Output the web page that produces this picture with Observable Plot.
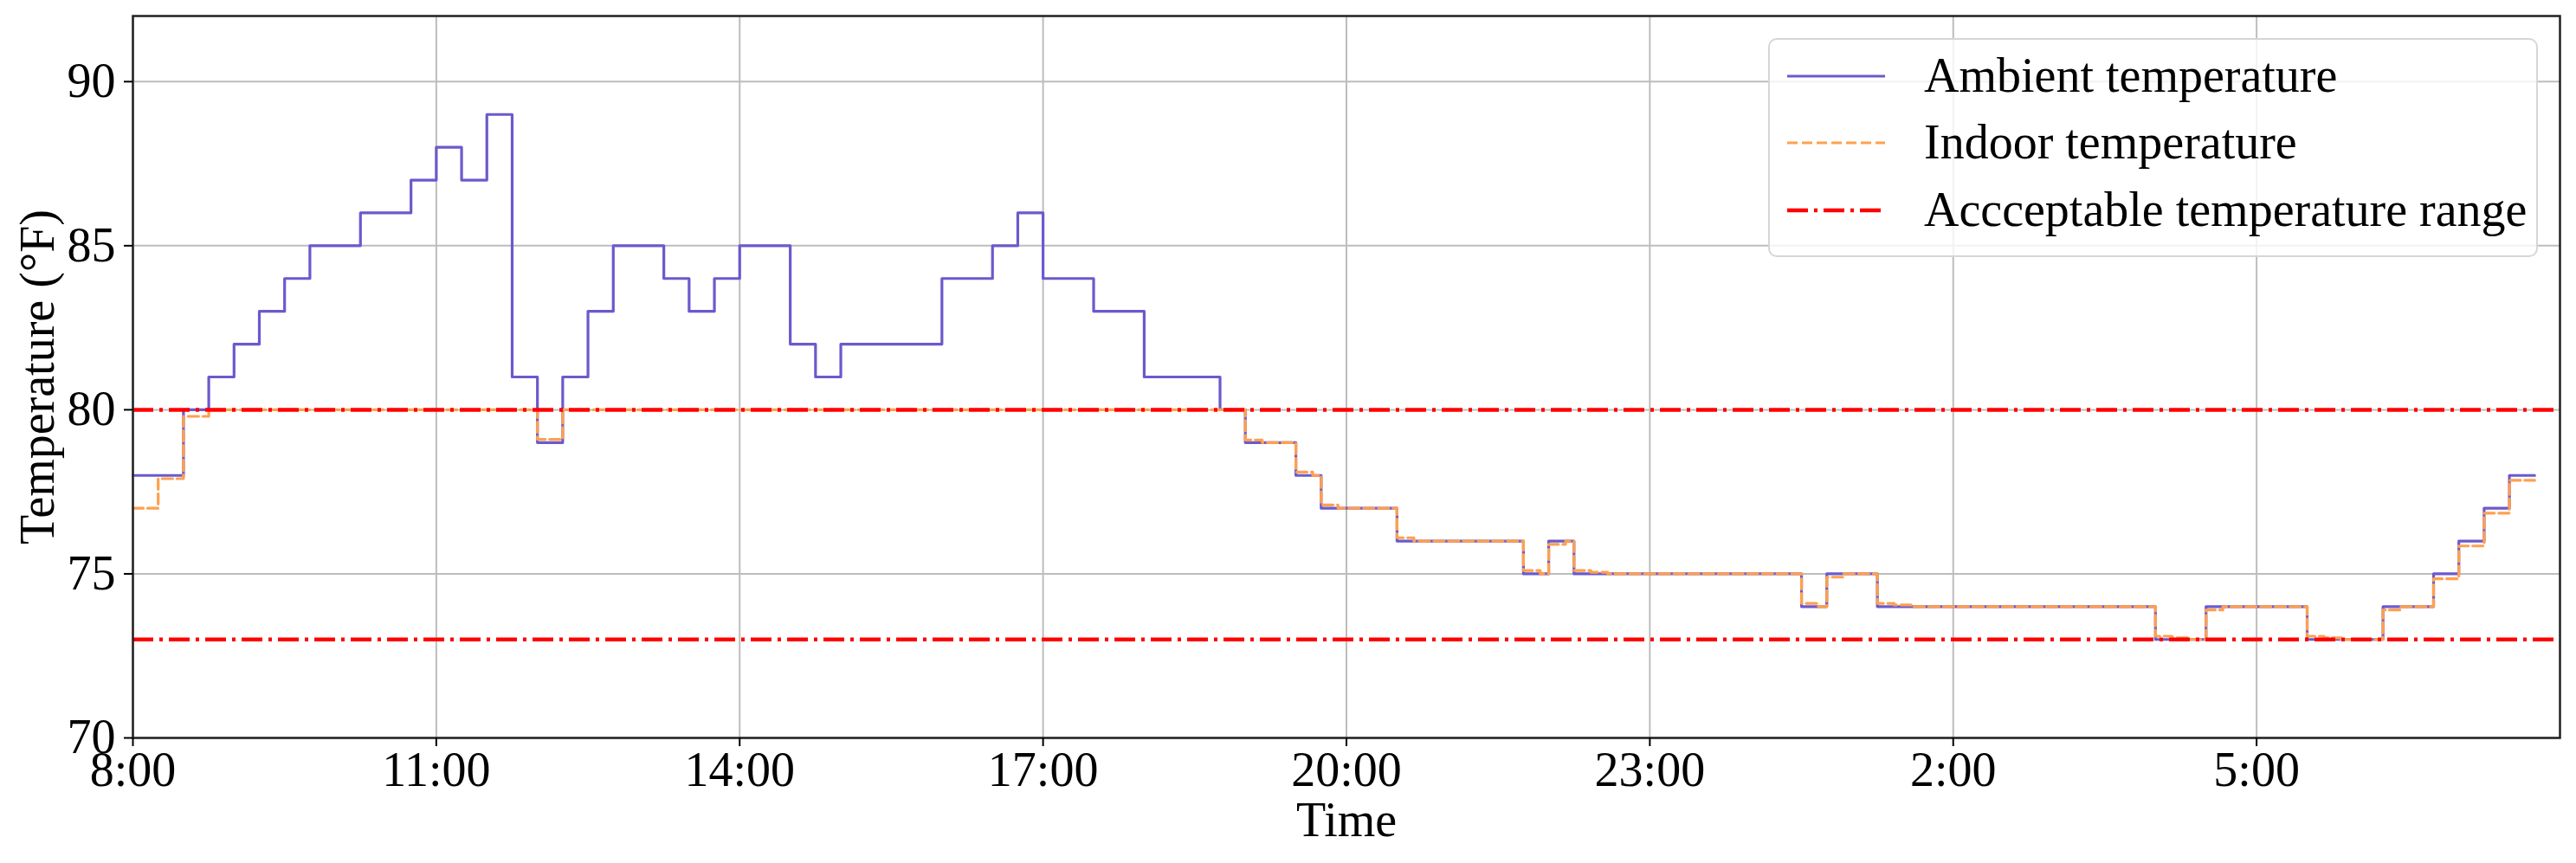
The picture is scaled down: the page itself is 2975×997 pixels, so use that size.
<!DOCTYPE html>
<html>
<head>
<meta charset="utf-8">
<script src="https://cdn.jsdelivr.net/npm/d3@7"></script>
<script src="https://cdn.jsdelivr.net/npm/@observablehq/plot@0.6"></script>
<style>
  html, body { margin: 0; padding: 0; background: #fff; }
  #wrap { position: relative; width: 2975px; height: 997px; }
  #legend { position: absolute; left: 0; top: 0; }
</style>
</head>
<body>
<div id="wrap"></div>
<script>
// ---- data ----
const startTime = "8:00";
const endTime = "8:00"; // next day
// ambient temperature every 15 minutes from 8:00 to 7:45 (next day)
const ambientValues = [
  78,78,80,81, 82,83,84,85, 85,86,86,87, 88,87,89,81,
  79,81,83,85, 85,84,83,84, 85,85,82,81, 82,82,82,82,
  84,84,85,86, 84,84,83,83, 81,81,81,80, 79,79,78,77,
  77,77,76,76, 76,76,76,75, 76,75,75,75, 75,75,75,75,
  75,75,74,75, 75,74,74,74, 74,74,74,74, 74,74,74,74,
  73,73,74,74, 74,74,73,73, 73,74,74,75, 76,77,78,78
];
// indoor temperature change points
const indoorTimes = ["8:00","8:15","8:30","8:45","12:00","12:15","19:00","19:10","19:30","19:40","19:45","19:55",
  "20:30","20:40","21:45","21:55","22:00","22:10","22:15","22:25","22:35","0:30","0:40","0:45","0:55",
  "1:15","1:25","1:35","4:00","4:10","4:20","4:30","4:40","5:30","5:40","5:50","6:15","6:25",
  "6:45","7:00","7:15","7:30","7:45"];
const indoorValues = [77.0,77.9,79.8,80,79.1,80,79.08,79.0,78.1,78.0,77.1,77.0,
  76.1,76.0,75.1,75.0,75.9,76.0,75.1,75.05,75.0,74.1,74.0,74.9,75.0,
  74.1,74.05,74.0,73.1,73.05,73.0,73.9,74.0,73.1,73.05,73.0,73.9,74.0,
  74.85,75.85,76.85,77.85,77.85];
const rangeBounds = [80, 73];
const xTickLabels = ["8:00","11:00","14:00","17:00","20:00","23:00","2:00","5:00"];
const yTicks = [70, 75, 80, 85, 90];
const yDomain = [70, 92];
const seriesNames = ["Ambient temperature", "Indoor temperature", "Accceptable temperature range"];

// ---- helpers ----
const parseT = (s, nextDay) => {
  const [h, m] = s.split(":").map(Number);
  return new Date(Date.UTC(2024, 0, (nextDay || h < 8) ? 2 : 1, h, m));
};
const t0 = parseT(startTime, false);
const t1 = parseT(endTime, true);
const ambient = ambientValues.map((v, i) => ({t: d3.utcMinute.offset(t0, 15 * i), v}));
const indoor = indoorTimes.map((s, i) => ({t: parseT(s), v: indoorValues[i]}));
const xTicks = xTickLabels.map(s => parseT(s));

const font = "'Liberation Serif', 'Times New Roman', serif";
const cBlue = "#6a5acd", cOrange = "#ffa04f", cRed = "#ff0000";

const chart = Plot.plot({
  width: 2975, height: 997,
  marginLeft: 153, marginRight: 19, marginTop: 18, marginBottom: 145,
  style: {fontFamily: font, fontSize: "56px", background: "white", color: "black"},
  x: {type: "utc", domain: [t0, t1]},
  y: {domain: yDomain},
  marks: [
    Plot.gridX(xTicks, {stroke: "#bdbdbd", strokeOpacity: 1, strokeWidth: 2}),
    Plot.gridY(yTicks, {stroke: "#bdbdbd", strokeOpacity: 1, strokeWidth: 2}),
    Plot.line(ambient, {x: "t", y: "v", curve: "step-after", stroke: cBlue, strokeWidth: 3.2}),
    Plot.line(indoor, {x: "t", y: "v", curve: "step-after", stroke: cOrange, strokeWidth: 3.2, strokeDasharray: "12,5"}),
    Plot.ruleY(rangeBounds, {stroke: cRed, strokeWidth: 4.5, strokeDasharray: "24,7,4,7"}),
    Plot.frame({stroke: "#222", strokeWidth: 2.5}),
    Plot.axisX(xTicks, {tickFormat: d => `${d.getUTCHours()}:00`, tickSize: 10, tickPadding: 6, strokeWidth: 2, label: null, fontSize: 56}),
    Plot.axisY(yTicks, {tickSize: 10, tickPadding: 10, strokeWidth: 2, label: null, fontSize: 56}),
    Plot.text(["Temperature (°F)"], {frameAnchor: "left", dx: -109, rotate: -90, fontSize: 56, textAnchor: "middle", lineAnchor: "middle", fill: "black"}),
    Plot.text(["Time"], {frameAnchor: "bottom", dy: 96, fontSize: 56, textAnchor: "middle", lineAnchor: "middle", fill: "black"})
  ]
});
const wrap = document.getElementById("wrap");
wrap.appendChild(chart);

// ---- legend (inside the plot, upper right) ----
const lg = d3.select(wrap).append("svg")
  .attr("id", "legend").attr("width", 2975).attr("height", 997)
  .style("pointer-events", "none");
lg.append("rect").attr("x", 2043).attr("y", 45).attr("width", 887).attr("height", 251)
  .attr("rx", 9).attr("fill", "rgba(255,255,255,0.8)").attr("stroke", "#d6d6d6").attr("stroke-width", 2);
const styles = [
  {stroke: cBlue, w: 3.2, dash: null},
  {stroke: cOrange, w: 3.2, dash: "12,5"},
  {stroke: cRed, w: 4.5, dash: "24,7,4,7"}
];
const rowY = [88, 165, 243];
seriesNames.forEach((name, i) => {
  lg.append("line").attr("x1", 2064).attr("x2", 2177).attr("y1", rowY[i]).attr("y2", rowY[i])
    .attr("stroke", styles[i].stroke).attr("stroke-width", styles[i].w)
    .attr("stroke-dasharray", styles[i].dash);
  lg.append("text").attr("x", 2222).attr("y", rowY[i]).attr("dy", "0.33em")
    .attr("font-family", font).attr("font-size", 56).attr("fill", "black").text(name);
});
</script>
</body>
</html>
